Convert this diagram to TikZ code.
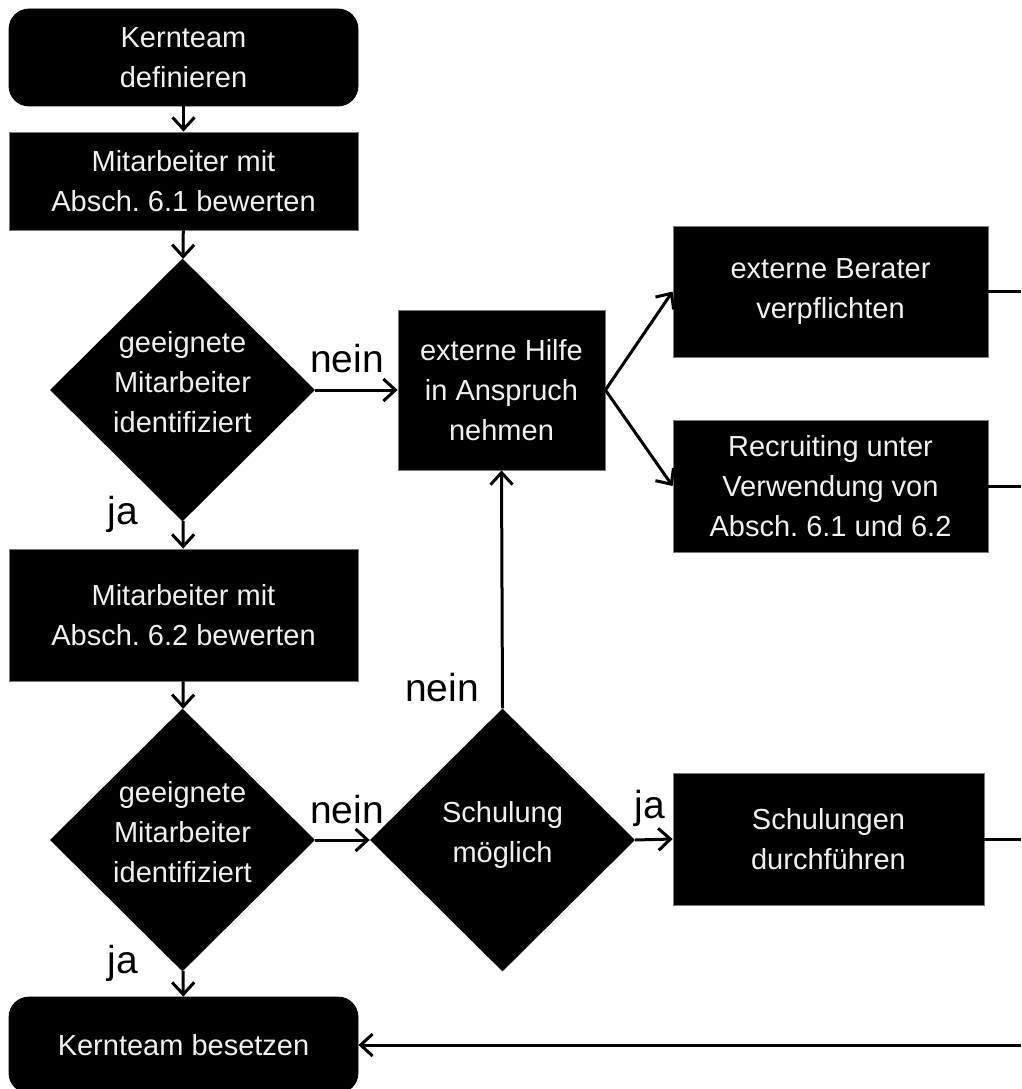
\documentclass[tikz,border=0pt]{standalone}
\usepackage{fontspec}
\setmainfont{Liberation Sans}
\usetikzlibrary{shapes.geometric,arrows.meta}
\definecolor{boxtext}{RGB}{240,240,240}
\definecolor{boxedge}{RGB}{120,120,120}
\frenchspacing

\begin{document}
\begin{tikzpicture}[x=1pt,y=-1pt,
  boxfont/.style={font=\fontsize{29}{40}\selectfont},
  procbox/.style={rectangle, fill=black, draw=boxedge, line width=0.8pt,
    text=boxtext, align=center, boxfont, inner sep=0pt},
  termbox/.style={procbox, rounded corners=20pt, draw=black},
  decision/.style={diamond, aspect=1, fill=black, draw=none,
    inner sep=0pt, minimum width=265pt, minimum height=263pt},
  dtext/.style={text=boxtext, align=center, boxfont, inner sep=0pt},
  edgelabel/.style={font=\fontsize{39}{40}\selectfont, inner sep=0pt},
  conn/.style={line width=3pt, -{Straight Barb[length=12pt,width=22pt]}},
  feed/.style={line width=3pt}
]
% page frame
\fill[white] (0,0) rectangle (1021,1089);
\useasboundingbox (0,0) rectangle (1021,1089);

% left column
\node[termbox, minimum width=349pt, minimum height=97pt] (def) at (183.5,57.5) {Kernteam\\definieren};
\node[procbox, minimum width=349pt, minimum height=98pt] (ev1) at (183.5,181) {Mitarbeiter mit\\Absch. 6.1 bewerten};
\node[decision] (d1) at (182.5,390) {};
\node[dtext] (d1text) at ([yshift=8pt]d1.center) {geeignete\\Mitarbeiter\\identifiziert};
\node[procbox, minimum width=349pt, minimum height=132pt] (ev2) at (183.5,615) {Mitarbeiter mit\\Absch. 6.2 bewerten};
\node[decision] (d2) at (182.5,840) {};
\node[dtext] (d2text) at ([yshift=8pt]d2.center) {geeignete\\Mitarbeiter\\identifiziert};
\node[termbox, minimum width=349pt, minimum height=96pt] (fill) at (183.5,1045) {Kernteam besetzen};

% middle column
\node[procbox, minimum width=207pt, minimum height=160pt] (hilfe) at (501.5,390) {externe Hilfe\\in Anspruch\\nehmen};
\node[decision] (schul) at (502.5,840) {};
\node[dtext] (schultext) at ([yshift=5pt]schul.center) {Schulung\\möglich};

% right column
\node[procbox, minimum width=315pt, minimum height=131pt] (berater) at (830.5,291.5) {externe Berater\\verpflichten};
\node[procbox, minimum width=315pt, minimum height=132pt] (recruit) at (830.5,486) {Recruiting unter\\Verwendung von\\Absch. 6.1 und 6.2};
\node[procbox, minimum width=311pt, minimum height=132pt] (train) at (828.5,839) {Schulungen\\durchführen};

% return path along the right edge
\coordinate (rim) at (1021,1045);

% branch labels
\node[edgelabel] (l1) at (347,359) {nein};
\node[edgelabel] (l2) at (123,514) {ja};
\node[edgelabel] (l3) at (347,810) {nein};
\node[edgelabel] (l4) at (123,963) {ja};
\node[edgelabel] (l5) at (442,688) {nein};
\node[edgelabel] (l6) at (650,808) {ja};

% connectors
\draw[conn] (def) -- (ev1);
\draw[conn] (ev1) -- (d1);
\draw[conn] (d1) -- (ev2);
\draw[conn] (ev2) -- (d2);
\draw[conn] (d2) -- (fill);
\draw[conn] (d1.east) -- (hilfe.west);
\draw[conn] (d2.east) -- (schul.west);
\draw[conn] (schul.north) -- (hilfe.south);
\draw[conn] (schul.east) -- (train.west);
\draw[conn] (hilfe.east) -- (berater.west);
\draw[conn] (hilfe.east) -- (recruit.west);
\draw[feed] (berater.east) -- (berater.east -| rim);
\draw[feed] (recruit.east) -- (recruit.east -| rim);
\draw[feed] (train.east) -- (train.east -| rim);
\draw[conn] (rim) -- (fill.east);
\end{tikzpicture}
\end{document}
